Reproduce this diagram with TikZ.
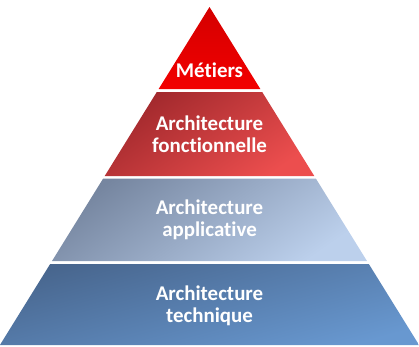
\documentclass[tikz,border=0pt]{standalone}
\usepackage{fontspec}
\setmainfont[RawFeature=-liga]{Carlito}
\definecolor{metierstop}{RGB}{212,0,0}
\definecolor{metiersbot}{RGB}{242,0,0}
\definecolor{fonctop}{RGB}{160,40,44}
\definecolor{foncbot}{RGB}{236,78,78}
\definecolor{appltop}{RGB}{118,134,160}
\definecolor{applbot}{RGB}{188,208,236}
\definecolor{techtop}{RGB}{72,102,142}
\definecolor{techbot}{RGB}{104,152,208}
\tikzset{
  layertext/.style={text=white,font=\fontsize{21}{22.5}\selectfont\bfseries,align=center}
}
\newcommand{\xl}[1]{209.5-(#1-7)*0.62}
\newcommand{\xr}[1]{209.5+(#1-7)*0.62}
\begin{document}
\begin{tikzpicture}[x=1bp,y=1bp]
  \useasboundingbox (0,0) rectangle (419,-347);
  % (layers, top to bottom)
  \shade [top color=metierstop,bottom color=metiersbot] (209.5,-7) -- ({\xr{89}},-89) -- ({\xl{89}},-89) -- cycle;
  \shade [top color=fonctop,bottom color=foncbot,shading angle=35] ({\xl{92}},-92) -- ({\xr{92}},-92) -- ({\xr{176}},-176) -- ({\xl{176}},-176) -- cycle;
  \shade [top color=appltop,bottom color=applbot,shading angle=35] ({\xl{178.5}},-178.5) -- ({\xr{178.5}},-178.5) -- ({\xr{261}},-261) -- ({\xl{261}},-261) -- cycle;
  \shade [top color=techtop,bottom color=techbot,shading angle=15] ({\xl{264}},-264) -- ({\xr{264}},-264) -- ({\xr{345}},-345) -- ({\xl{345}},-345) -- cycle;
  % labels
  \node [layertext] (metiers) at (209.5,-70) {Métiers};
  \node [layertext] (fonc) at (209.5,-134) {Architecture\\fonctionnelle};
  \node [layertext] (appl) at (209.5,-220) {Architecture\\applicative};
  \node [layertext] (tech) at (209.5,-306) {Architecture\\technique};
\end{tikzpicture}
\end{document}
